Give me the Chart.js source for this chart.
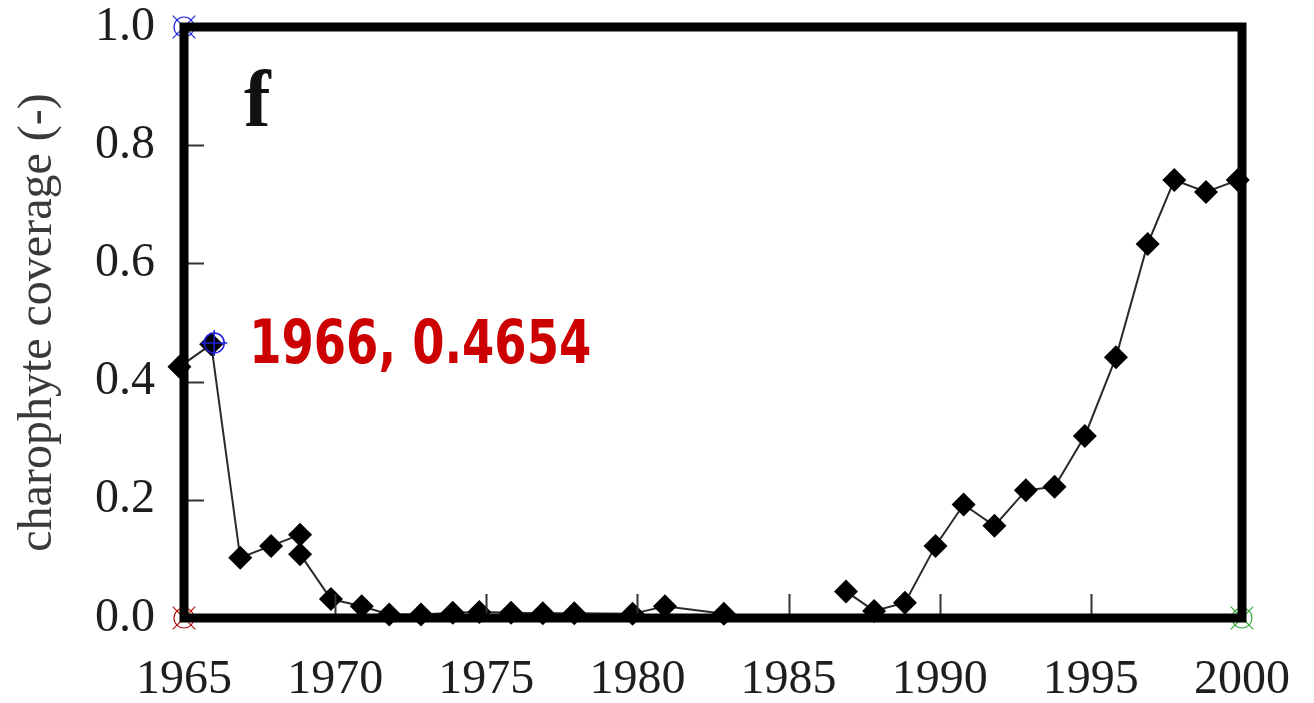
<!DOCTYPE html>
<html>
<head>
<meta charset="utf-8">
<script src="https://cdn.jsdelivr.net/npm/chart.js@4.4.0/dist/chart.umd.min.js"></script>
<style>
  html, body { margin: 0; padding: 0; background: #ffffff; }
  #c { display: block; }
</style>
</head>
<body>
<canvas id="c" width="1314" height="703"></canvas>
<script>
// ---- data ----
const years = [1964.85, 1965.9, 1966.86, 1967.88, 1968.84, 1968.84, 1969.86, 1970.88, 1971.79, 1972.84,
               1973.89, 1974.77, 1975.82, 1976.87, 1977.91, 1979.84, 1980.91, 1982.86, 1985,
               1986.90, 1987.83, 1988.85, 1989.86, 1990.79, 1991.81, 1992.85, 1993.80, 1994.80,
               1995.83, 1996.88, 1997.76, 1998.81, 1999.86];
const coverage = [0.425, 0.463, 0.102, 0.122, 0.141, 0.108, 0.032, 0.020, 0.006, 0.006,
                  0.009, 0.010, 0.009, 0.008, 0.008, 0.007, 0.020, 0.007, null,
                  0.045, 0.012, 0.026, 0.122, 0.192, 0.156, 0.216, 0.222, 0.308,
                  0.441, 0.633, 0.741, 0.721, 0.741];
const xTickValues = [1965, 1970, 1975, 1980, 1985, 1990, 1995, 2000];
const yTickValues = [0.0, 0.2, 0.4, 0.6, 0.8, 1.0];
// digitizer calibration marks (blue, red, green) and the picked point
const calibYears = [1965, 1965, 2000];
const calibValues = [1.0, 0.0, 0.0];
const calibColors = ['#1f1fe0', '#b01010', '#3aa63a'];
const pickedYears = [1966];
const pickedValues = [0.4654];
const panelLetter = 'f';
const yAxisTitle = 'charophyte coverage (-)';

const SERIF = "'Liberation Serif', 'DejaVu Serif', serif";
Chart.defaults.font.family = SERIF;

const toXY = (xs, ys) => xs.map((x, i) => ({ x: x, y: ys[i] }));

const framePlugin = {
  id: 'frame',
  afterDatasetsDraw(chart) {
    const { ctx, chartArea: a, scales } = chart;
    ctx.save();
    ctx.strokeStyle = '#333';
    ctx.lineWidth = 2;
    scales.y.ticks.forEach(t => {
      if (t.value <= 0 || t.value >= 1) return;
      const y = Math.round(scales.y.getPixelForValue(t.value)) + 0.5;
      ctx.beginPath(); ctx.moveTo(a.left, y); ctx.lineTo(a.left + 20, y); ctx.stroke();
    });
    scales.x.ticks.forEach(t => {
      if (t.value <= 1965 || t.value >= 2000) return;
      const x = Math.round(scales.x.getPixelForValue(t.value)) + 0.5;
      ctx.beginPath(); ctx.moveTo(x, a.bottom); ctx.lineTo(x, a.bottom - 24); ctx.stroke();
    });
    ctx.strokeStyle = '#000';
    ctx.lineWidth = 9;
    ctx.strokeRect(a.left, a.top, a.right - a.left, a.bottom - a.top);
    ctx.restore();
  },
  afterDraw(chart) {
    const { ctx, chartArea: a, scales } = chart;
    ctx.save();
    ctx.fillStyle = '#111';
    ctx.font = "bold 80px " + SERIF;
    ctx.textBaseline = 'alphabetic';
    ctx.textAlign = 'left';
    ctx.fillText(panelLetter, a.left + 60, a.top + 99);
    const px = scales.x.getPixelForValue(pickedYears[0]);
    const py = scales.y.getPixelForValue(pickedValues[0]);
    ctx.fillStyle = '#cc0000';
    ctx.font = "bold 60px 'DejaVu Sans Condensed', 'DejaVu Sans', sans-serif";
    ctx.fillText(pickedYears[0] + ', ' + pickedValues[0], px + 35, py + 20, 342);
    ctx.restore();
  }
};

new Chart(document.getElementById('c'), {
  type: 'line',
  data: {
    datasets: [
      {
        label: 'coverage',
        data: toXY(years, coverage),
        borderColor: '#2a2a2a',
        borderWidth: 2,
        pointStyle: 'rectRot',
        pointRadius: 12,
        pointBackgroundColor: '#000',
        pointBorderColor: '#000',
        pointBorderWidth: 0,
        spanGaps: false,
        tension: 0,
        clip: false,
        order: 3
      },
      {
        label: 'calib-x',
        type: 'scatter',
        data: toXY(calibYears, calibValues),
        pointStyle: 'crossRot',
        pointRadius: 16,
        borderWidth: 1.2,
        pointBorderColor: calibColors,
        showLine: false,
        clip: false,
        order: 1
      },
      {
        label: 'calib-o',
        type: 'scatter',
        data: toXY(calibYears, calibValues),
        pointStyle: 'circle',
        pointRadius: 10,
        borderWidth: 1.2,
        pointBorderColor: calibColors,
        pointBackgroundColor: 'rgba(0,0,0,0)',
        showLine: false,
        clip: false,
        order: 1
      },
      {
        label: 'picked-o',
        type: 'scatter',
        data: toXY(pickedYears, pickedValues),
        pointStyle: 'circle',
        pointRadius: 10,
        borderWidth: 1.5,
        pointBorderColor: '#1f1fe0',
        pointBackgroundColor: 'rgba(0,0,0,0)',
        showLine: false,
        clip: false,
        order: 0
      },
      {
        label: 'picked-x',
        type: 'scatter',
        data: toXY(pickedYears, pickedValues),
        pointStyle: 'cross',
        pointRadius: 13,
        borderWidth: 1.5,
        pointBorderColor: '#1f1fe0',
        showLine: false,
        clip: false,
        order: 0
      }
    ]
  },
  options: {
    responsive: false,
    devicePixelRatio: 1,
    animation: false,
    events: [],
    layout: { padding: { top: 27, right: 72, left: 0, bottom: 0 } },
    plugins: { legend: { display: false }, tooltip: { enabled: false } },
    scales: {
      x: {
        type: 'linear',
        min: 1965,
        max: 2000,
        afterBuildTicks(scale) { scale.ticks = xTickValues.map(v => ({ value: v })); },
        afterFit(scale) { scale.height = 85; scale.paddingLeft = 0; scale.paddingRight = 0; },
        grid: { display: false, drawTicks: false },
        border: { display: false },
        ticks: {
          color: '#1e1e1e',
          padding: 34,
          maxRotation: 0,
          autoSkip: false,
          font: { family: SERIF, size: 48 },
          callback: v => String(v)
        }
      },
      y: {
        type: 'linear',
        min: 0,
        max: 1,
        afterBuildTicks(scale) { scale.ticks = yTickValues.map(v => ({ value: v })); },
        afterFit(scale) { scale.width = 184; scale.paddingTop = 0; scale.paddingBottom = 0; },
        grid: { display: false, drawTicks: false },
        border: { display: false },
        ticks: {
          color: '#1e1e1e',
          padding: 29,
          font: { family: SERIF, size: 48 },
          callback: v => Number(v).toFixed(1)
        },
        title: {
          display: true,
          text: yAxisTitle,
          color: '#3a3a3a',
          padding: { top: 10, bottom: 0 },
          font: { family: SERIF, size: 48 }
        }
      }
    }
  },
  plugins: [framePlugin]
});
</script>
</body>
</html>
